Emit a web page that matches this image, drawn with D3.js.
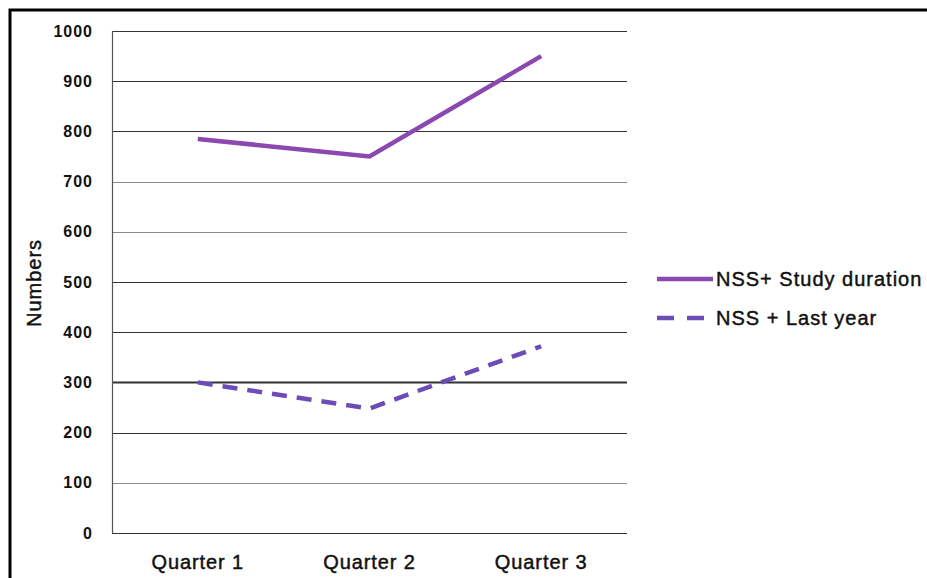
<!DOCTYPE html>
<html>
<head>
<meta charset="utf-8">
<script src="https://cdn.jsdelivr.net/npm/d3@7"></script>
<style>
  body { margin: 0; background: #fff; }
  text { font-family: "Liberation Sans", Arial, sans-serif; fill: #111; }
  .heavy { stroke: #111; stroke-width: 0.45px; }
</style>
</head>
<body>
<div id="chart"></div>
<script>
// chart data
const quarters = ["Quarter 1", "Quarter 2", "Quarter 3"];
const studyDuration = [785, 750, 950];
const lastYear = [300, 248, 372];
const seriesNames = ["NSS+ Study duration", "NSS + Last year"];
const yTicks = [0, 100, 200, 300, 400, 500, 600, 700, 800, 900, 1000];

const width = 927, height = 578;
const margin = { left: 112, right: 300, top: 31, bottom: 45 };

const svg = d3.select('#chart')
    .append('svg')
    .attr('width', width)
    .attr('height', height);

// outer frame (runs off the right and bottom edges)
svg.append('rect')
    .attr('x', 10).attr('y', 10)
    .attr('width', 960).attr('height', 620)
    .attr('fill', '#fff')
    .attr('stroke', '#000')
    .attr('stroke-width', 3);

const x = d3.scaleBand()
    .domain(quarters)
    .range([margin.left, width - margin.right])
    .padding(0);

const y = d3.scaleLinear()
    .domain([0, 1000])
    .range([533, margin.top]);

// grid lines
svg.append('g')
    .selectAll('line')
    .data(yTicks)
    .enter()
    .append('line')
    .attr('x1', margin.left)
    .attr('x2', x.range()[1])
    .attr('y1', d => Math.round(y(d)) + 0.5)
    .attr('y2', d => Math.round(y(d)) + 0.5)
    .attr('stroke', d => (d == 600 || d == 700 || d == 100) ? '#8a8a8a' : '#333')
    .attr('stroke-width', d => d == 300 ? 1.8 : 1.2);

// left axis line
svg.append('line')
    .attr('x1', margin.left + 0.5).attr('x2', margin.left + 0.5)
    .attr('y1', y(1000)).attr('y2', y(0))
    .attr('stroke', '#555')
    .attr('stroke-width', 1.2);

// y tick labels
const yAxis = d3.axisLeft(y).tickValues(yTicks).tickFormat(d3.format('d'))
    .tickSize(0).tickPadding(19);
const yg = svg.append('g')
    .attr('transform', `translate(${margin.left},0)`)
    .call(yAxis);
yg.select('.domain').remove();
yg.selectAll('text')
    .style('font-size', '16px')
    .style('font-weight', 'bold')
    .style('letter-spacing', '1px')
    .attr('fill', '#111');

// x tick labels
const xAxis = d3.axisBottom(x).tickSize(0).tickPadding(22);
const xg = svg.append('g')
    .attr('transform', `translate(0,${y(0)})`)
    .call(xAxis);
xg.select('.domain').remove();
xg.selectAll('text')
    .attr('class', 'heavy')
    .style('font-size', '20px')
    .style('letter-spacing', '0.9px')
    .attr('fill', '#111');

// y axis title
svg.append('text')
    .attr('class', 'heavy')
    .attr('transform', 'translate(41,283) rotate(-90)')
    .attr('text-anchor', 'middle')
    .style('font-size', '20px')
    .style('letter-spacing', '1px')
    .text('Numbers');

const line = d3.line()
    .x((d, i) => x(quarters[i]) + x.bandwidth() / 2)
    .y(d => y(d));

svg.append('path')
    .datum(studyDuration)
    .attr('d', line)
    .attr('fill', 'none')
    .attr('stroke', '#8a48b0')
    .attr('stroke-width', 4.5);

svg.append('path')
    .datum(lastYear)
    .attr('d', line)
    .attr('fill', 'none')
    .attr('stroke', '#6c4db8')
    .attr('stroke-width', 4.5)
    .attr('stroke-dasharray', '15,10');

// legend
const legend = svg.append('g').attr('transform', 'translate(657,279)');
const styles = [
    { color: '#8a48b0', dash: null, len: 56 },
    { color: '#6c4db8', dash: '17,13', len: 47 }
];
seriesNames.forEach((name, i) => {
    const g = legend.append('g').attr('transform', `translate(0,${i * 39})`);
    g.append('line')
        .attr('x1', 0).attr('x2', styles[i].len)
        .attr('y1', 0).attr('y2', 0)
        .attr('stroke', styles[i].color)
        .attr('stroke-width', 4.5)
        .attr('stroke-dasharray', styles[i].dash);
    g.append('text')
        .attr('class', 'heavy')
        .attr('x', 59)
        .attr('dy', '0.35em')
        .style('font-size', '20px')
        .style('letter-spacing', '1px')
        .text(name);
});
</script>
</body>
</html>
